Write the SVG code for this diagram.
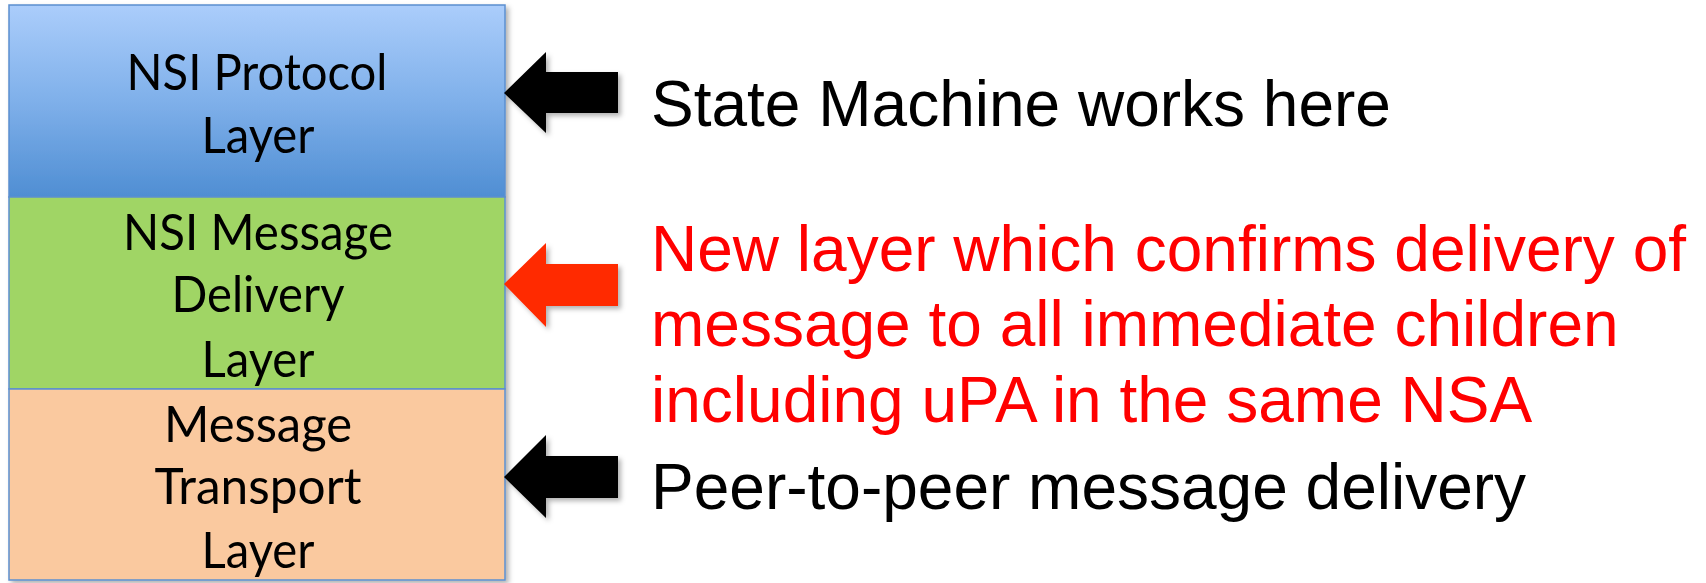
<svg xmlns="http://www.w3.org/2000/svg" width="1706" height="583" viewBox="0 0 1706 583">
<style>
.box{stroke:#5b8fd0;stroke-width:1.5}
.lbl{font-family:Lato,"Open Sans","Liberation Sans",sans-serif;font-size:50px;fill:#000;text-anchor:middle}
.note{font-family:"Liberation Sans",Arial,sans-serif;font-size:64px}
</style>
<defs>
<linearGradient id="blueGrad" x1="0" y1="0" x2="0" y2="1">
<stop offset="0" stop-color="#abcdfb"/>
<stop offset="0.5" stop-color="#7fb0ea"/>
<stop offset="1" stop-color="#4f8ed3"/>
</linearGradient>
<filter id="shadow" x="-10%" y="-10%" width="130%" height="130%">
<feDropShadow dx="3" dy="3" stdDeviation="2.5" flood-color="#000" flood-opacity="0.3"/>
</filter>
</defs>
<g id="stack" filter="url(#shadow)">
<g id="protocol-layer">
<rect class="box" x="9" y="5" width="496" height="192" fill="url(#blueGrad)"/>
<text class="lbl" x="257" y="90" textLength="261" lengthAdjust="spacingAndGlyphs">NSI Protocol</text>
<text class="lbl" x="258" y="153" textLength="113" lengthAdjust="spacingAndGlyphs">Layer</text>
</g>
<g id="delivery-layer">
<rect class="box" x="9" y="197" width="496" height="192" fill="#a0d565"/>
<text class="lbl" x="258" y="250" textLength="270" lengthAdjust="spacingAndGlyphs">NSI Message</text>
<text class="lbl" x="258" y="312" textLength="173" lengthAdjust="spacingAndGlyphs">Delivery</text>
<text class="lbl" x="258" y="377" textLength="113" lengthAdjust="spacingAndGlyphs">Layer</text>
</g>
<g id="transport-layer">
<rect class="box" x="9" y="389" width="496" height="191" fill="#fac99f"/>
<text class="lbl" x="258" y="442" textLength="188" lengthAdjust="spacingAndGlyphs">Message</text>
<text class="lbl" x="258" y="504" textLength="207" lengthAdjust="spacingAndGlyphs">Transport</text>
<text class="lbl" x="258" y="568" textLength="113" lengthAdjust="spacingAndGlyphs">Layer</text>
</g>
</g>
<g id="connectors" filter="url(#shadow)">
<polygon id="arrow-state" points="504,93 546,52 546,72 618,72 618,113 546,113 546,133" fill="#000"/>
<polygon id="arrow-new" points="504,284 546,243 546,264 618,264 618,306 546,306 546,327" fill="#ff2a00"/>
<polygon id="arrow-peer" points="504,477 546,435 546,456 618,456 618,498 546,498 546,518" fill="#000"/>
</g>
<g id="notes">
<text class="note" x="651" y="126" fill="#000">State Machine works here</text>
<text class="note" x="651" y="271" fill="#ff0000">New layer which confirms delivery of</text>
<text class="note" x="651" y="346" fill="#ff0000">message to all immediate children</text>
<text class="note" x="651" y="422" fill="#ff0000">including uPA in the same NSA</text>
<text class="note" x="651" y="509" fill="#000">Peer-to-peer message delivery</text>
</g>
</svg>
